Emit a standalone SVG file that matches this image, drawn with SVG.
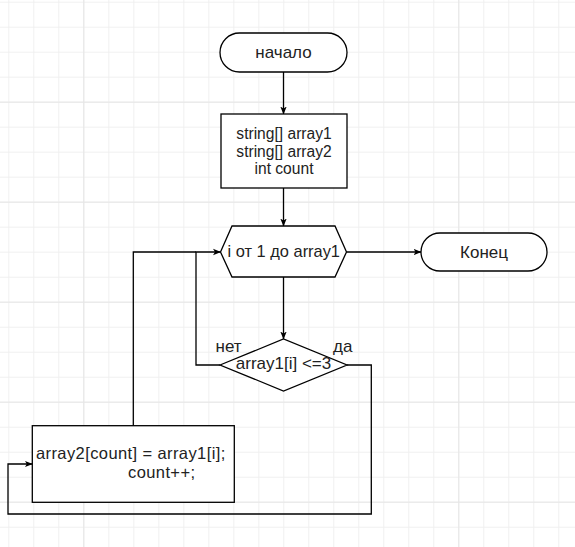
<svg xmlns="http://www.w3.org/2000/svg" width="575" height="547" viewBox="0 0 575 547">
<defs>
<pattern id="grid" x="8.3" y="1.7" width="25" height="25" patternUnits="userSpaceOnUse">
<path d="M0.5,0 V25 M0,0.5 H25" fill="none" stroke="#f0f0f0" stroke-width="1"/>
</pattern>
<marker id="arr" viewBox="0 0 8 8" refX="7.5" refY="4" markerWidth="8" markerHeight="8" markerUnits="userSpaceOnUse" orient="auto">
<path d="M0,0.8 L8,4 L0,7.2 L2,4 Z" fill="#000"/>
</marker>
<style>
.shape{fill:#fff;stroke:#000;stroke-width:1.3}
.conn{fill:none;stroke:#000;stroke-width:1.3}
text{font-family:"Liberation Sans",Arial,sans-serif;font-size:17px;fill:#222}
.c{text-anchor:middle}
.major{stroke:#e6e6e6;stroke-width:1}
.bt{font-size:16.5px;letter-spacing:0.4px}
</style>
</defs>
<rect width="575" height="547" fill="#fff"/>
<rect width="575" height="547" fill="url(#grid)"/>
<g class="major">
<path d="M83.8,0 V547 M458.8,0 V547 M0,102.2 H575 M0,202.2 H575 M0,302.2 H575 M0,402.2 H575 M0,502.2 H575"/>
</g>
<g id="connectors">
<path class="conn" d="M283.5,72 V114" marker-end="url(#arr)"/>
<path class="conn" d="M283.5,188 V226" marker-end="url(#arr)"/>
<path class="conn" d="M283.5,277 V339" marker-end="url(#arr)"/>
<path class="conn" d="M346.5,252 H421" marker-end="url(#arr)"/>
<path class="conn" d="M220,365 H196 V252 H220.5" marker-end="url(#arr)"/>
<path class="conn" d="M133.3,426 V252 H196"/>
<path class="conn" d="M347,365 H371.3 V514 H8 V464 H32.3" marker-end="url(#arr)"/>
</g>
<g id="start">
<rect class="shape" x="220" y="33" width="127" height="39" rx="19.5"/>
<text class="c" x="283.5" y="57.5">начало</text>
</g>
<g id="decl">
<rect class="shape" x="221" y="114" width="126" height="74"/>
<text class="c" x="284" y="139" style="font-size:15.6px">string[] array1</text>
<text class="c" x="284" y="156.5" style="font-size:15.6px">string[] array2</text>
<text class="c" x="284" y="173.5" style="font-size:15.6px">int count</text>
</g>
<g id="loop">
<polygon class="shape" points="220.5,252 232,226 335,226 346.5,252 335,277 232,277"/>
<text class="c" x="283.8" y="257" style="font-size:16.4px">i от 1 до array1</text>
</g>
<g id="end">
<rect class="shape" x="421" y="233" width="126" height="38" rx="19"/>
<text class="c" x="484" y="257.5">Конец</text>
</g>
<g id="cond">
<polygon class="shape" points="220,365 283.5,339 347,365 283.5,391"/>
<text class="c" x="283.5" y="369">array1[i] &lt;=3</text>
</g>
<g id="labels">
<text x="215.5" y="352">нет</text>
<text x="333" y="352">да</text>
</g>
<g id="body">
<rect class="shape" x="32.3" y="425.7" width="202" height="76.6"/>
<text class="bt" x="36" y="459">array2[count] = array1[i];</text>
<text class="bt" x="128" y="478">count++;</text>
</g>
</svg>
